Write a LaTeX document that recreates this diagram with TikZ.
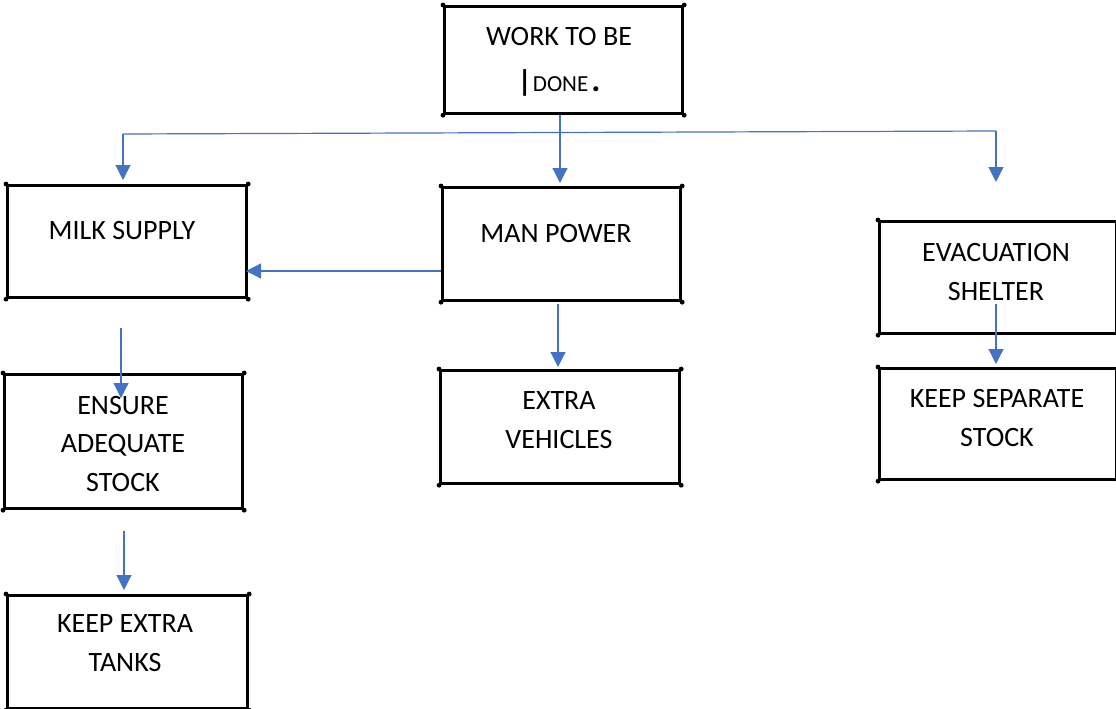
\documentclass[tikz,border=0pt]{standalone}
\usepackage{fontspec}
\setmainfont{Carlito}
\usetikzlibrary{arrows.meta}
\definecolor{linkblue}{HTML}{4472C4}
\tikzset{
  box/.style={draw=black, line width=3.2pt, inner sep=0pt, anchor=north west},
  lbl/.style={font=\fontsize{28}{38.5}\selectfont, align=center, inner sep=0pt},
  wire/.style={draw=linkblue, line width=1.2pt},
  link/.style={wire, -{Triangle[length=15pt,width=15pt]}},
}
\begin{document}
\begin{tikzpicture}[x=1pt,y=-1pt]
\useasboundingbox (0,0) rectangle (1116,709);

% boxes
\node[box, minimum width=238pt, minimum height=107pt] (work)  at (443,5)   {};
\node[box, minimum width=239pt, minimum height=112pt] (milk)  at (6,184)   {};
\node[box, minimum width=238pt, minimum height=113pt] (man)   at (441,186) {};
\node[box, minimum width=237pt, minimum height=112pt] (evac)  at (878,220) {};
\node[box, minimum width=237pt, minimum height=111pt] (sep)   at (878,367) {};
\node[box, minimum width=239pt, minimum height=113pt] (veh)   at (439,369) {};
\node[box, minimum width=238pt, minimum height=134pt] (ens)   at (3,373)   {};
\node[box, minimum width=240pt, minimum height=113pt] (tanks) at (6,594)   {};

% corner dots
\foreach \b in {work,milk,man,evac,sep,veh,ens,tanks}
  \foreach \a in {north west,north east,south west,south east}
    \fill (\b.\a) circle (2.4pt);

% labels
\node[lbl] (workt) at (559,37) {WORK TO BE};
\node[lbl, anchor=base] (workd) at (559,92)
  {{\fontsize{30}{30}\selectfont\textbf{|}}\hspace{1pt}{\fontsize{23}{23}\selectfont DONE}\hspace{3pt}{\fontsize{34}{34}\selectfont\textbf{.}}};
\node[lbl] (milkt)  at (122,231) {MILK SUPPLY};
\node[lbl] (mant)   at (556,234) {MAN POWER};
\node[lbl] (evact)  at (996,272) {EVACUATION\\SHELTER};
\node[lbl] (sept)   at (997,418) {KEEP SEPARATE\\STOCK};
\node[lbl] (veht)   at (559,420) {EXTRA\\VEHICLES};
\node[lbl] (enst)   at (123,444) {ENSURE\\ADEQUATE\\STOCK};
\node[lbl] (tankst) at (125,643) {KEEP EXTRA\\TANKS};

% connector ends
\coordinate (busL) at (123,134);
\coordinate (busR) at (996,131);
\coordinate (busM) at (560,133);
\coordinate (tipL) at (123,180);
\coordinate (tipM) at (560,183);
\coordinate (tipR) at (996,182);
\coordinate (mpL)  at (441,271);
\coordinate (mpT)  at (246,271);
\coordinate (mpB)  at (558,304);
\coordinate (vehT) at (558,367);
\coordinate (evB)  at (996,304);
\coordinate (sepT) at (996,364);
\coordinate (msB)  at (121,328);
\coordinate (ensT) at (121,398);
\coordinate (enB)  at (124,531);
\coordinate (tkT)  at (124,590);

% connectors
\draw[wire] (busL) -- (busR);
\draw[wire] (work.south -| busM) -- (busM);
\draw[link] (busL) -- (tipL);
\draw[link] (busM) -- (tipM);
\draw[link] (busR) -- (tipR);
\draw[link] (mpL) -- (mpT);
\draw[link] (mpB) -- (vehT);
\draw[link] (evB) -- (sepT);
\draw[link] (msB) -- (ensT);
\draw[link] (enB) -- (tkT);
\end{tikzpicture}
\end{document}
